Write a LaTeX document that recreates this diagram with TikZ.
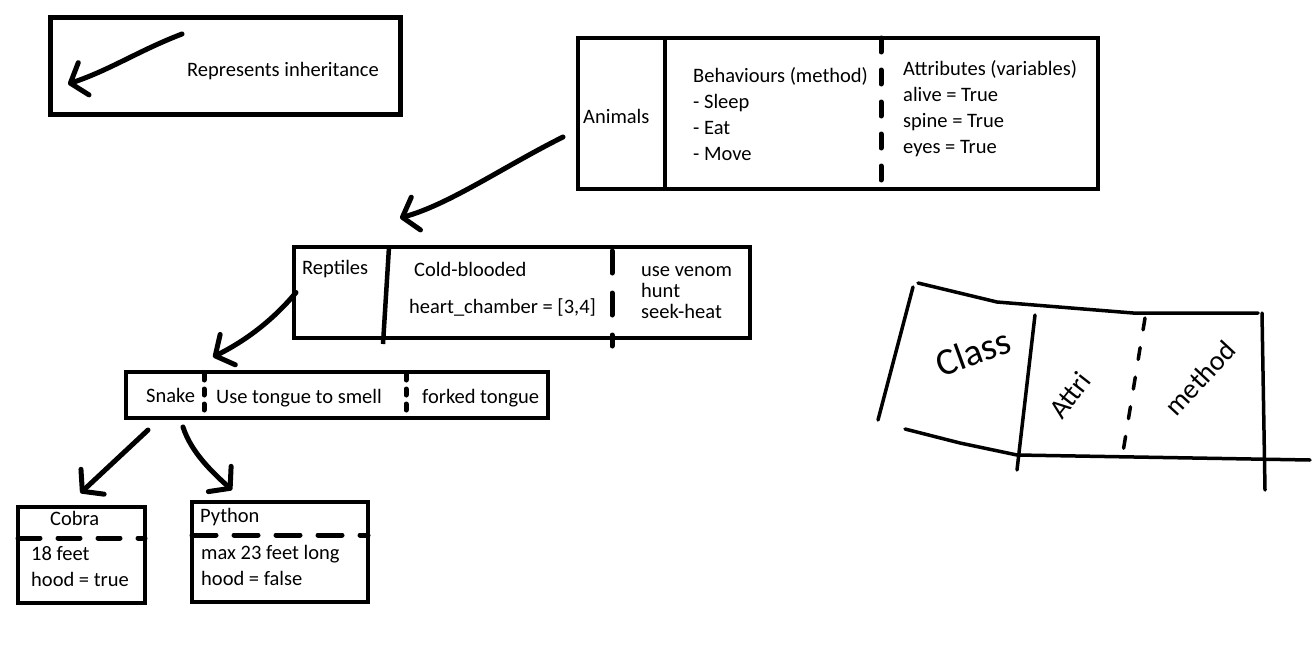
\documentclass[tikz,border=0pt]{standalone}
\usepackage{fontspec}
\setmainfont{Carlito}
\usetikzlibrary{arrows.meta, positioning, calc}

\tikzset{
  box/.style={draw, line width=4.5pt, inner sep=0pt, outer sep=0pt},
  txt/.style={anchor=base west, inner sep=0pt, align=left, font=\fontsize{20.5}{26}\selectfont},
  divider/.style={line width=4.5pt},
  dashdiv/.style={line width=5pt, line cap=round, dash pattern=on 14pt off 18pt},
  inherit/.style={line width=5pt, line cap=round, line join=round, -{Straight Barb[length=14pt, width=34pt, round]}},
  scribble/.style={line width=3.5pt, line cap=round, line join=round},
  hand/.style={inner sep=0pt, font=\fontsize{38}{38}\selectfont},
}

\begin{document}
\begin{tikzpicture}[x=1pt, y=-1pt]
  \fill[white] (0,0) rectangle (1312,645);
  \useasboundingbox (0,0) rectangle (1312,645);

  % Key
  \node[box, minimum width=350pt, minimum height=97pt] (legend) at (225.5,66) {};
  \node[txt] (legendtext) at (187,76) {Represents inheritance};
  \draw[inherit] (182,34) .. controls (140,50) and (110,70) .. (68,84);

  % Animals (base class)
  \node[box, minimum width=520pt, minimum height=151pt] (animals) at (838,113.5) {};
  \draw[divider] ([xshift=87pt]animals.north west) -- ([xshift=87pt]animals.south west);
  \draw[dashdiv] ([xshift=303pt]animals.north west) -- ([xshift=303pt]animals.south west);
  \node[txt] (animalsname) at (583,123) {Animals};
  % multi-line texts sit on the baseline of their last line
  \node[txt] (animalsmethods) at (693,160) {Behaviours (method)\\- Sleep\\- Eat\\- Move};
  \node[txt] (animalsattrs) at (903,153) {Attributes (variables)\\alive = True\\spine = True\\eyes = True};

  % Reptiles
  \node[box, minimum width=456pt, minimum height=91pt] (reptiles) at (522,292.5) {};
  \draw[divider] ([xshift=95pt]reptiles.north west) -- ([xshift=89pt, yshift=-6pt]reptiles.south west);
  \draw[dashdiv, dash pattern=on 22pt off 20pt] ([xshift=318pt, yshift=-4pt]reptiles.north west) -- ([xshift=318pt, yshift=-8pt]reptiles.south west);
  \node[txt] (reptilesname) at (302,274) {Reptiles};
  \node[txt] (reptilesattr) at (414,276) {Cold-blooded};
  \node[txt] (reptilesheart) at (409,313) {heart\textunderscore chamber = [3,4]};
  \node[txt, font=\fontsize{20.5}{21}\selectfont] (reptilesmethods) at (641,318) {use venom\\hunt\\seek-heat};

  % Snake
  \node[box, minimum width=422pt, minimum height=46pt] (snake) at (337,395) {};
  \draw[dashdiv, dash pattern=on 6pt off 9pt] ([xshift=78pt, yshift=-2pt]snake.north west) -- ([xshift=78pt]snake.south west);
  \draw[dashdiv, dash pattern=on 6pt off 9pt] ([xshift=280pt, yshift=-2pt]snake.north west) -- ([xshift=280pt]snake.south west);
  \node[txt] (snakename) at (146,402) {Snake};
  \node[txt] (snakemethod) at (216,403) {Use tongue to smell};
  \node[txt] (snakeattr) at (422,403) {forked tongue};

  % Cobra and Python
  \node[box, minimum width=127pt, minimum height=96pt] (cobra) at (81.5,555) {};
  \draw[dashdiv, dash pattern=on 22pt off 18pt] ([yshift=-31pt]cobra.north west) -- ([yshift=-31pt]cobra.north east);
  \node[txt] (cobraname) at (50,525) {Cobra};
  \node[txt] (cobraattrs) at (31,586) {18 feet\\hood = true};

  \node[box, minimum width=176pt, minimum height=100pt] (python) at (280,552) {};
  \draw[dashdiv, dash pattern=on 24pt off 18pt] ([yshift=-33pt]python.north west) -- ([yshift=-33pt]python.north east);
  \node[txt] (pythonname) at (200,522) {Python};
  \node[txt] (pythonattrs) at (201,585) {max 23 feet long\\hood = false};

  % Inheritance arrows
  \draw[inherit] ([shift={(-15,23.5)}]animals.west) .. controls +(-60,30) and +(50,-14) .. ([shift={(106,-29)}]reptiles.north west);
  \draw[inherit] ([shift={(2,0)}]reptiles.west) .. controls +(-25,30) and +(30,-15) .. ([shift={(87,-15)}]snake.north west);
  \draw[inherit] ([shift={(22,12)}]snake.south west) -- ([shift={(-1,-14)}]cobra.north);
  \draw[inherit] ([shift={(57,9)}]snake.south west) .. controls +(8,25) and +(-20,-18) .. ([shift={(40,-12)}]python.north west);

  % Rough sketch of a class box
  \draw[scribble] (913,287) -- (878,420);
  \draw[scribble] (918,283) -- (997,302) -- (1133,313) -- (1258,313);
  \draw[scribble] (905,429) -- (960,443) -- (1017,455) -- (1310,460);
  \draw[scribble] (1035,315) -- (1017,470);
  \draw[scribble] (1262,313) -- (1265,490);
  \draw[scribble, dash pattern=on 12pt off 18pt] (1145,318) -- (1123,452);
  \node[hand, rotate=20] (sketchclass) at (973,352) {Class};
  \node[hand, rotate=52, font=\fontsize{28}{28}\selectfont] (sketchattr) at (1070,395) {Attri};
  \node[hand, rotate=47, font=\fontsize{28}{28}\selectfont] (sketchmethod) at (1200,378) {method};
\end{tikzpicture}
\end{document}
